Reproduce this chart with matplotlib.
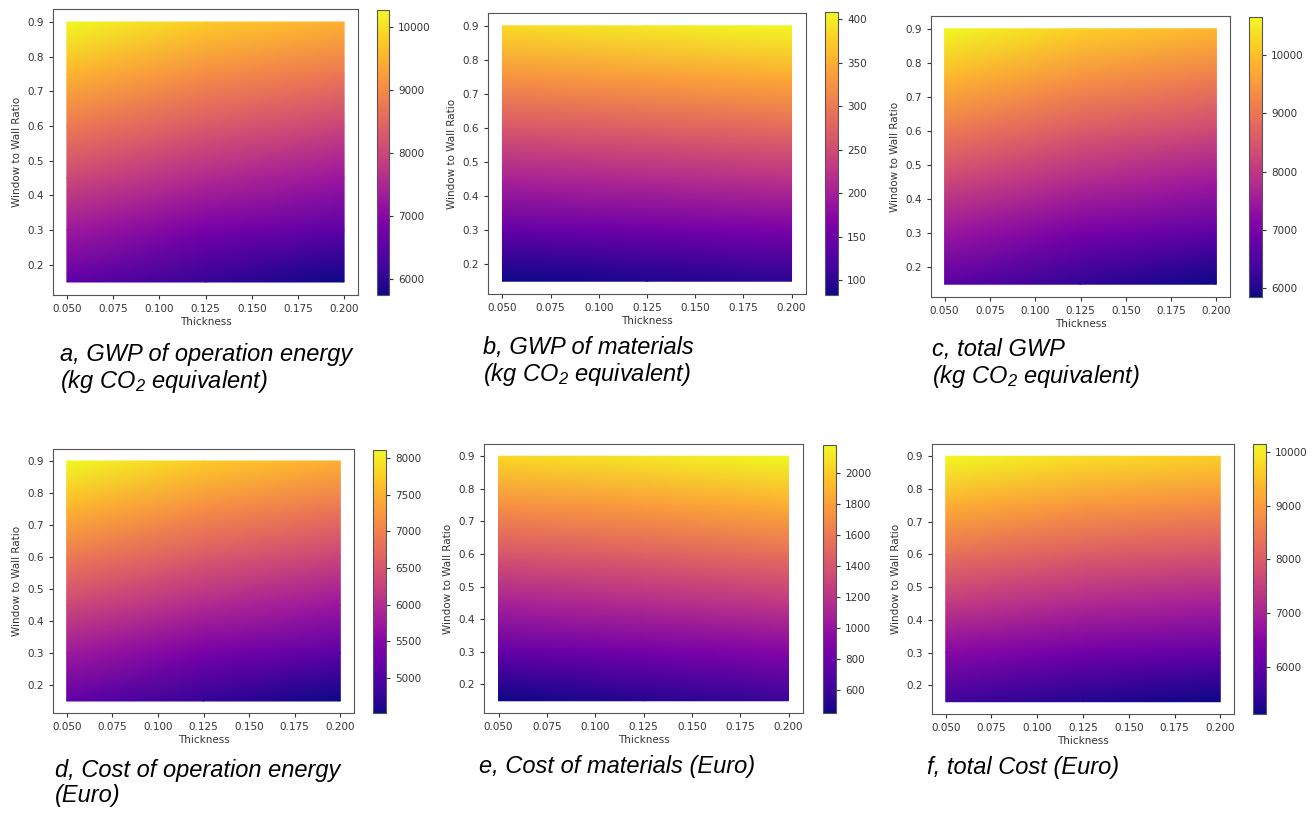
import matplotlib.pyplot as plt
from matplotlib.ticker import MultipleLocator

plt.rcParams['mathtext.fontset'] = 'custom'
plt.rcParams['mathtext.rm'] = 'Liberation Sans:italic'
plt.rcParams['mathtext.it'] = 'Liberation Sans:italic'

# grid: rows = window to wall ratio, cols = thickness
thickness = [0.05, 0.125, 0.2]
wwr = [0.15, 0.3, 0.45, 0.6, 0.75, 0.9]

gwp_operation = [[6550, 6070, 5745],
                 [7294, 6815, 6492],
                 [8038, 7560, 7239],
                 [8782, 8305, 7986],
                 [9526, 9050, 8733],
                 [10270, 9790, 9480]]
gwp_materials = [[83, 91, 100],
                 [143, 152, 162],
                 [204, 213, 223],
                 [264, 274, 285],
                 [325, 335, 346],
                 [385, 396, 408]]
gwp_total = [[6633, 6161, 5845],
             [7437, 6967, 6654],
             [8242, 7773, 7462],
             [9046, 8579, 8271],
             [9851, 9385, 9079],
             [10655, 10186, 9888]]
cost_operation = [[5160, 4780, 4520],
                  [5750, 5370, 5110],
                  [6340, 5960, 5700],
                  [6930, 6550, 6290],
                  [7520, 7140, 6880],
                  [8110, 7730, 7470]]
cost_materials = [[452, 520, 600],
                  [770, 837, 916],
                  [1087, 1154, 1232],
                  [1405, 1471, 1548],
                  [1722, 1788, 1864],
                  [2040, 2105, 2180]]
cost_total = [[5612, 5300, 5120],
              [6520, 6207, 6026],
              [7427, 7114, 6932],
              [8335, 8021, 7838],
              [9242, 8928, 8744],
              [10150, 9835, 9650]]

captions = ["a, GWP of operation energy\n(kg CO$_2$ equivalent)",
            "b, GWP of materials\n(kg CO$_2$ equivalent)",
            "c, total GWP\n(kg CO$_2$ equivalent)",
            "d, Cost of operation energy\n(Euro)",
            "e, Cost of materials (Euro)",
            "f, total Cost (Euro)"]
cbar_steps = [1000, 50, 1000, 500, 200, 1000]
fields = [gwp_operation, gwp_materials, gwp_total,
          cost_operation, cost_materials, cost_total]

# layout in pixels: axes box, colorbar box (left, top, right, bottom), caption anchor
W, H = 1315, 813
ax_px = [(53, 9, 358, 295), (488, 13, 806, 294), (931, 16, 1230, 297),
         (53, 449, 354, 713), (484, 444, 803, 713), (932, 444, 1234, 714)]
cb_px = [(377, 10, 389, 295), (825, 12, 838, 295), (1249, 17, 1262, 297),
         (373, 450, 386, 713), (823, 445, 836, 713), (1253, 444, 1266, 714)]
cap_px = [(60, 343), (483, 336), (932, 338), (55, 759), (479, 755), (927, 756)]


def box(p):
    l, t, r, b = p
    return [l / W, 1 - b / H, (r - l) / W, (b - t) / H]


fig = plt.figure(figsize=(W / 100, H / 100), dpi=100)
tc = '#333333'

for i in range(6):
    ax = fig.add_axes(box(ax_px[i]))
    m = ax.pcolormesh(thickness, wwr, fields[i], cmap='plasma', shading='gouraud')
    ax.set_xlim(0.0425, 0.2075)
    ax.set_ylim(0.1125, 0.9375)
    ax.set_xticks([0.05, 0.075, 0.1, 0.125, 0.15, 0.175, 0.2])
    ax.set_xticklabels(['0.050', '0.075', '0.100', '0.125', '0.150', '0.175', '0.200'])
    ax.set_yticks([0.2, 0.3, 0.4, 0.5, 0.6, 0.7, 0.8, 0.9])
    ax.tick_params(labelsize=7.5, colors=tc, length=3)
    ax.set_xlabel('Thickness', fontsize=7.5, color=tc, labelpad=2)
    ax.set_ylabel('Window to Wall Ratio', fontsize=7.5, color=tc)
    for s in ax.spines.values():
        s.set_color('#555555')

    cax = fig.add_axes(box(cb_px[i]))
    cb = fig.colorbar(m, cax=cax)
    cb.locator = MultipleLocator(cbar_steps[i])
    cb.update_ticks()
    cax.tick_params(labelsize=7.5, colors=tc, length=3)
    cb.outline.set_edgecolor('#555555')

    x, y = cap_px[i]
    fig.text(x / W, 1 - y / H, captions[i], fontsize=17, style='italic',
             family='Liberation Sans', va='top', ha='left', linespacing=1.12)

fig.savefig('out.png', dpi=100)
